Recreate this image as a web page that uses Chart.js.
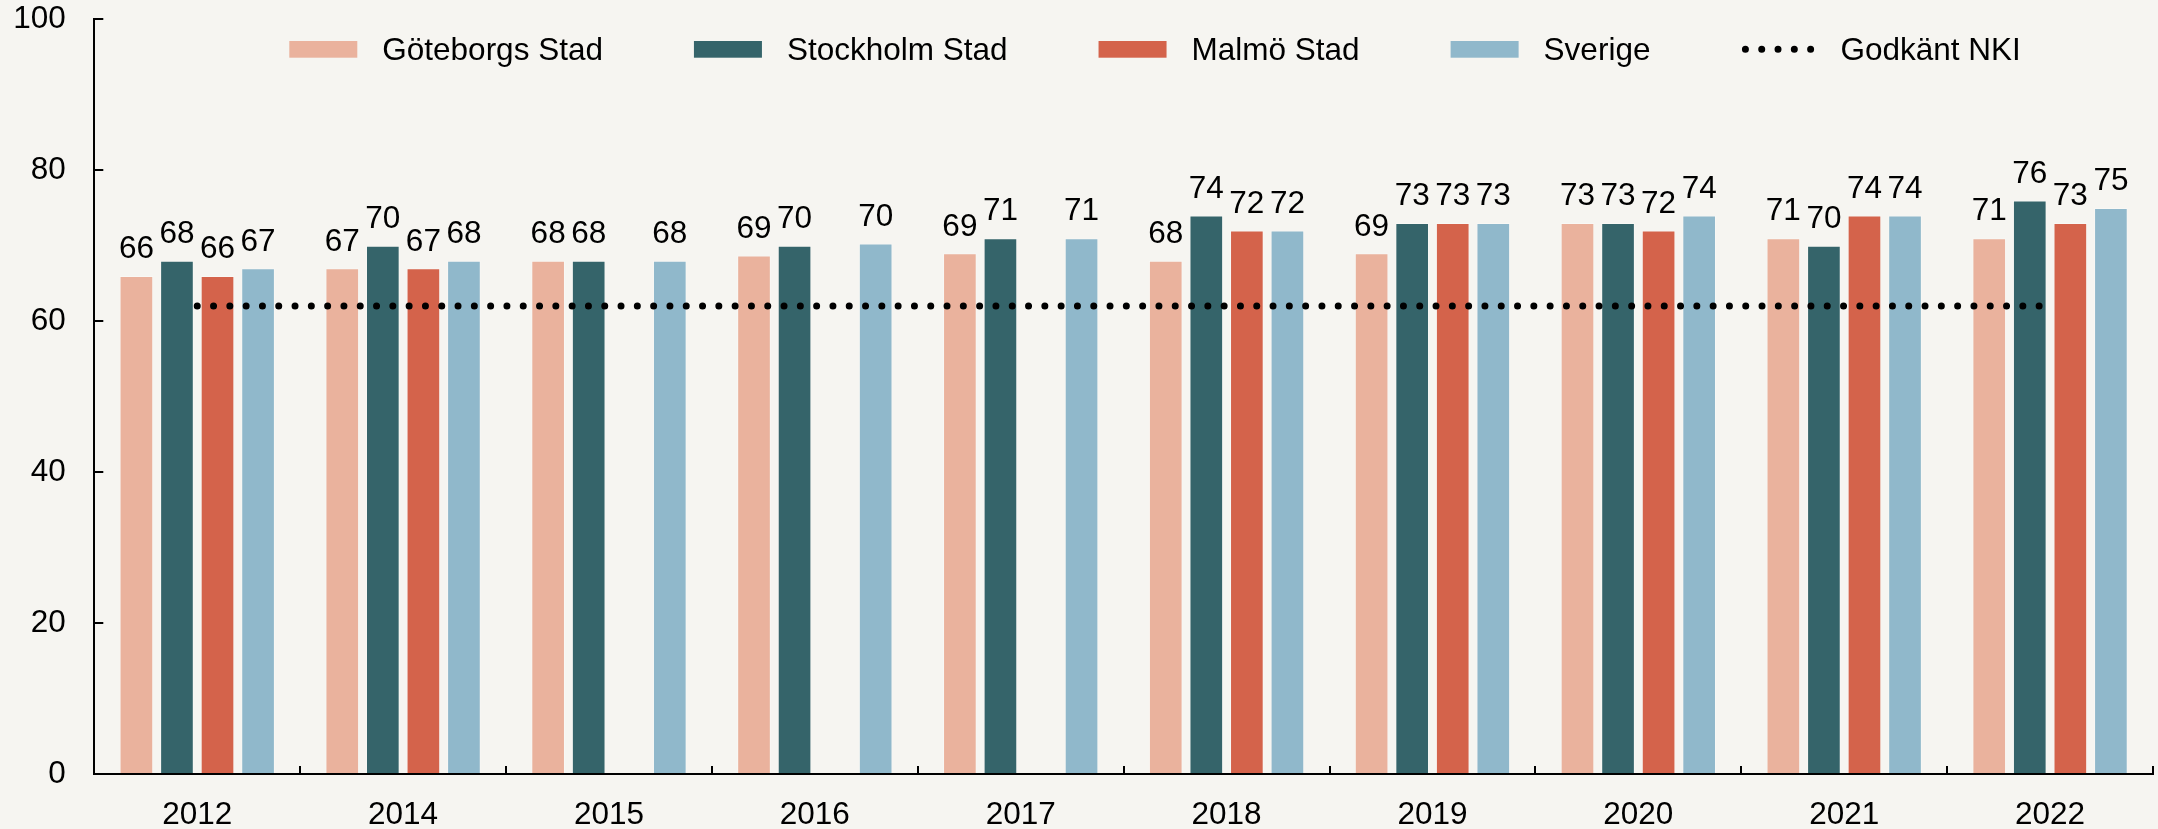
<!DOCTYPE html>
<html>
<head>
<meta charset="utf-8">
<script src="https://cdn.jsdelivr.net/npm/chart.js@4.4.0/dist/chart.umd.min.js"></script>
<style>
  html, body { margin: 0; padding: 0; background: #f6f5f1; }
  #wrap { width: 2158px; height: 829px; position: relative; }
</style>
</head>
<body>
<div id="wrap"><canvas id="nki-chart"></canvas></div>
<script>
// data
const years = ['2012', '2014', '2015', '2016', '2017', '2018', '2019', '2020', '2021', '2022'];
const goteborg = [66, 67, 68, 68.7, 69, 68, 69, 73, 71, 71];
const stockholm = [68, 70, 68, 70, 71, 74, 73, 73, 70, 76];
const malmo = [66, 67, null, null, null, 72, 73, 72, 74, 73];
const sverige = [67, 68, 68, 70.3, 71, 72, 73, 74, 74, 75];
const godkantNKI = [62, 62, 62, 62, 62, 62, 62, 62, 62, 62];
const yTicks = [0, 20, 40, 60, 80, 100];

const FONT_FAMILY = '"Liberation Sans", Arial, sans-serif';
const FONT_SIZE = 31.5;

// valueLabels writes the rounded value above every bar
const valueLabels = {
    id: 'valueLabels',
    afterDatasetsDraw(chart) {
        const ctx = chart.ctx;
        ctx.save();
        ctx.font = FONT_SIZE + 'px ' + FONT_FAMILY;
        ctx.fillStyle = '#000';
        ctx.textAlign = 'center';
        ctx.textBaseline = 'alphabetic';
        chart.data.datasets.forEach((ds, i) => {
            if (ds.type === 'line') return;
            const meta = chart.getDatasetMeta(i);
            meta.data.forEach((bar, j) => {
                const v = ds.data[j];
                if (v === null || v === undefined) return;
                ctx.fillText(String(Math.round(v)), bar.x, bar.y - 17.7);
            });
        });
        ctx.restore();
    }
};

// topLegend draws the legend row inside the plot area
const topLegend = {
    id: 'topLegend',
    afterDraw(chart) {
        const ctx = chart.ctx;
        const area = chart.chartArea;
        const yMid = area.top + 30;
        let x = area.left + 195;
        ctx.save();
        ctx.font = FONT_SIZE + 'px ' + FONT_FAMILY;
        ctx.textAlign = 'left';
        ctx.textBaseline = 'alphabetic';
        chart.data.datasets.forEach(ds => {
            let textX;
            if (ds.type === 'line') {
                ctx.strokeStyle = ds.borderColor;
                ctx.lineWidth = ds.borderWidth;
                ctx.lineCap = 'round';
                ctx.setLineDash([0, 16.3]);
                ctx.beginPath();
                ctx.moveTo(x + 4, yMid);
                ctx.lineTo(x + 4 + 66, yMid);
                ctx.stroke();
                ctx.setLineDash([]);
                textX = x + 99;
            } else {
                ctx.fillStyle = ds.backgroundColor;
                ctx.fillRect(x, yMid - 8.3, 68, 16.7);
                textX = x + 93;
            }
            ctx.fillStyle = '#000';
            ctx.fillText(ds.label, textX, yMid + 10.6);
            x = textX + ctx.measureText(ds.label).width + 91;
        });
        ctx.restore();
    }
};

function createNkiChart(targetID) {
    const ctx = document.getElementById(targetID).getContext('2d');
    const font = { family: FONT_FAMILY, size: FONT_SIZE };
    const edge = 'rgba(255,255,255,0.3)';
    return new Chart(ctx, {
        type: 'bar',
        data: {
            labels: years,
            datasets: [{
                label: 'Göteborgs Stad',
                data: goteborg,
                backgroundColor: '#eab29d',
                borderColor: edge,
                borderWidth: 1,
                order: 1
            }, {
                label: 'Stockholm Stad',
                data: stockholm,
                backgroundColor: '#35646a',
                borderColor: edge,
                borderWidth: 1,
                order: 1
            }, {
                label: 'Malmö Stad',
                data: malmo,
                backgroundColor: '#d4634b',
                borderColor: edge,
                borderWidth: 1,
                order: 1
            }, {
                label: 'Sverige',
                data: sverige,
                backgroundColor: '#90b8cb',
                borderColor: edge,
                borderWidth: 1,
                order: 1
            }, {
                type: 'line',
                label: 'Godkänt NKI',
                data: godkantNKI,
                borderColor: '#000',
                borderWidth: 7,
                borderDash: [0, 16.3],
                borderCapStyle: 'round',
                pointRadius: 0,
                fill: false,
                order: 0 // drawn on top of the bars
            }]
        },
        options: {
            responsive: true,
            maintainAspectRatio: false,
            animation: false,
            datasets: {
                bar: { categoryPercentage: 0.788, barPercentage: 0.83 }
            },
            layout: { padding: { top: 19.3, right: 5, left: 0, bottom: 0 } },
            plugins: {
                legend: { display: false },
                tooltip: { enabled: false }
            },
            scales: {
                x: {
                    grid: { drawOnChartArea: false, tickLength: -8, color: '#000', lineWidth: 2, offset: true },
                    border: { color: '#000', width: 2 },
                    ticks: { font: font, color: '#000', padding: 30 },
                    afterFit(scale) {
                        scale.height = 829 - 774;
                        scale.paddingLeft = 0;
                        scale.paddingRight = 0;
                    }
                },
                y: {
                    min: yTicks[0],
                    max: yTicks[yTicks.length - 1],
                    afterBuildTicks(scale) { scale.ticks = yTicks.map(v => ({ value: v })); },
                    grid: { drawOnChartArea: false, tickLength: -9, color: '#000', lineWidth: 2 },
                    border: { color: '#000', width: 2 },
                    ticks: { font: font, color: '#000', padding: 37.5 },
                    afterFit(scale) {
                        scale.width = 94.3;
                        scale.paddingTop = 0;
                        scale.paddingBottom = 0;
                    }
                }
            }
        },
        plugins: [valueLabels, topLegend]
    });
}

createNkiChart('nki-chart');
</script>
</body>
</html>
